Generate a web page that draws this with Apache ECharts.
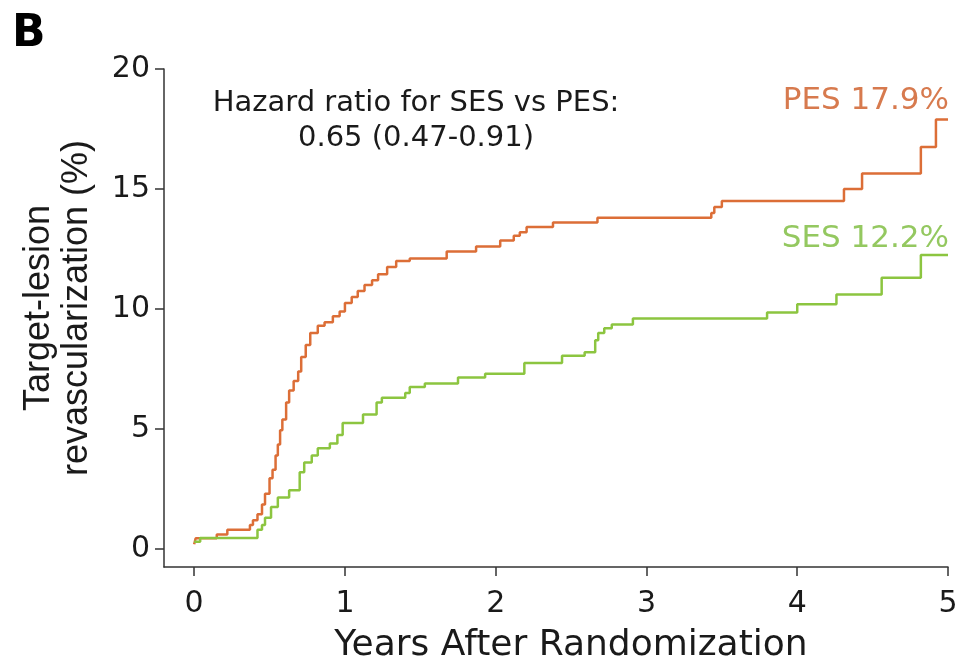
<!DOCTYPE html>
<html>
<head>
<meta charset="utf-8">
<script src="https://cdn.jsdelivr.net/npm/echarts@6/dist/echarts.min.js"></script>
<style>html,body{margin:0;padding:0;background:#fff}#c{width:961px;height:669px}</style>
</head>
<body>
<div id="c"></div>
<script>
// Years after randomization and cumulative TLR (%) for PES
const pesYears = [0, 0.01, 0.15, 0.22, 0.37, 0.39, 0.42, 0.45, 0.47, 0.50, 0.52, 0.54, 0.555, 0.57, 0.585, 0.61, 0.63, 0.66, 0.69, 0.71, 0.74, 0.77, 0.82, 0.865, 0.92, 0.965, 1.0, 1.045, 1.085, 1.13, 1.18, 1.22, 1.28, 1.34, 1.43, 1.675, 1.87, 2.03, 2.12, 2.16, 2.205, 2.38, 2.675, 3.43, 3.45, 3.5, 4.31, 4.43, 4.82, 4.92, 5.0];
const pesTLR   = [0.2, 0.45, 0.6, 0.8, 1.0, 1.2, 1.45, 1.85, 2.3, 2.95, 3.3, 3.9, 4.35, 4.95, 5.4, 6.1, 6.6, 7.0, 7.4, 8.0, 8.5, 9.0, 9.3, 9.45, 9.7, 9.9, 10.25, 10.5, 10.75, 11.0, 11.2, 11.45, 11.75, 12.0, 12.1, 12.4, 12.6, 12.85, 13.05, 13.2, 13.42, 13.6, 13.8, 14.0, 14.25, 14.5, 15.0, 15.65, 16.75, 17.9, 17.9];
// Years after randomization and cumulative TLR (%) for SES
const sesYears = [0, 0.04, 0.42, 0.45, 0.47, 0.51, 0.555, 0.63, 0.70, 0.73, 0.78, 0.82, 0.90, 0.95, 0.985, 1.12, 1.21, 1.245, 1.40, 1.43, 1.53, 1.75, 1.93, 2.19, 2.44, 2.59, 2.66, 2.68, 2.72, 2.77, 2.91, 3.80, 4.0, 4.26, 4.56, 4.82, 5.0];
const sesTLR   = [0.3, 0.46, 0.8, 1.0, 1.3, 1.75, 2.15, 2.45, 3.2, 3.6, 3.9, 4.2, 4.4, 4.75, 5.25, 5.6, 6.1, 6.3, 6.5, 6.75, 6.9, 7.15, 7.3, 7.75, 8.05, 8.2, 8.7, 9.0, 9.2, 9.35, 9.6, 9.85, 10.2, 10.6, 11.3, 12.25, 12.25];
const xTicks = [0, 1, 2, 3, 4, 5];
const yTicks = [0, 5, 10, 15, 20];
const seriesNames = ['PES', 'SES'];
const endLabels = ['PES 17.9%', 'SES 12.2%'];
const hazardText = ['Hazard ratio for SES vs PES:', '0.65 (0.47-0.91)'];
const panelLetter = 'B';
const xTitle = 'Years After Randomization';
const yTitle = 'Target-lesion\nrevascularization (%)';

const PES_COLOR = '#dc6e37';
const SES_COLOR = '#8cc540';
const WIDE = '"DejaVu Sans", sans-serif';
const ARIAL = '"Liberation Sans", Arial, sans-serif';

const pair = (xs, ys) => xs.map((x, i) => [x, ys[i]]);

const chart = echarts.init(document.getElementById('c'), null, {renderer: 'canvas'});
chart.setOption({
  animation: false,
  backgroundColor: '#fff',
  grid: {left: 164, right: 13, top: 69, bottom: 102, containLabel: false},
  xAxis: {
    type: 'value', min: -0.2, max: 5,
    name: xTitle, nameLocation: 'middle', nameGap: 61,
    nameTextStyle: {fontFamily: WIDE, fontSize: 36, color: '#1a1a1a', padding: [0, 0, 0, 30]},
    axisLine: {show: true, onZero: false, lineStyle: {color: '#333', width: 1.5}},
    axisTick: {show: true, customValues: xTicks, length: 9, lineStyle: {color: '#333', width: 1.5}},
    axisLabel: {customValues: xTicks, margin: 22, fontFamily: WIDE, fontSize: 30, color: '#1a1a1a'},
    splitLine: {show: false}
  },
  yAxis: {
    type: 'value', min: -0.75, max: 20,
    name: yTitle, nameLocation: 'middle', nameGap: 68,
    nameTextStyle: {fontFamily: ARIAL, fontSize: 36, color: '#1a1a1a', lineHeight: 38, align: 'center', padding: [0, 0, 0, 20]},
    axisLine: {show: true, onZero: false, lineStyle: {color: '#333', width: 1.5}},
    axisTick: {show: true, customValues: yTicks, length: 9, lineStyle: {color: '#333', width: 1.5}},
    axisLabel: {customValues: yTicks, margin: 14, fontFamily: WIDE, fontSize: 30, color: '#1a1a1a'},
    splitLine: {show: false}
  },
  series: [
    {name: seriesNames[0], type: 'line', step: 'end', showSymbol: false,
     data: pair(pesYears, pesTLR), lineStyle: {color: PES_COLOR, width: 2.5}, itemStyle: {color: PES_COLOR}},
    {name: seriesNames[1], type: 'line', step: 'end', showSymbol: false,
     data: pair(sesYears, sesTLR), lineStyle: {color: SES_COLOR, width: 2.5}, itemStyle: {color: SES_COLOR}}
  ],
  graphic: [
    {type: 'text', left: 12, top: 13, style: {text: panelLetter, font: 'bold 44px ' + WIDE, fill: '#000'}},
    {type: 'text', x: 416, y: 103, style: {text: hazardText[0], font: '29px ' + WIDE, fill: '#1a1a1a', textAlign: 'center', textVerticalAlign: 'middle'}},
    {type: 'text', x: 416, y: 138, style: {text: hazardText[1], font: '29px ' + WIDE, fill: '#1a1a1a', textAlign: 'center', textVerticalAlign: 'middle'}},
    {type: 'text', x: 949, y: 101, style: {text: endLabels[0], font: '31px ' + WIDE, fill: '#d77a4e', textAlign: 'right', textVerticalAlign: 'middle'}},
    {type: 'text', x: 949, y: 239, style: {text: endLabels[1], font: '31px ' + WIDE, fill: '#94c860', textAlign: 'right', textVerticalAlign: 'middle'}}
  ]
});
</script>
</body>
</html>
